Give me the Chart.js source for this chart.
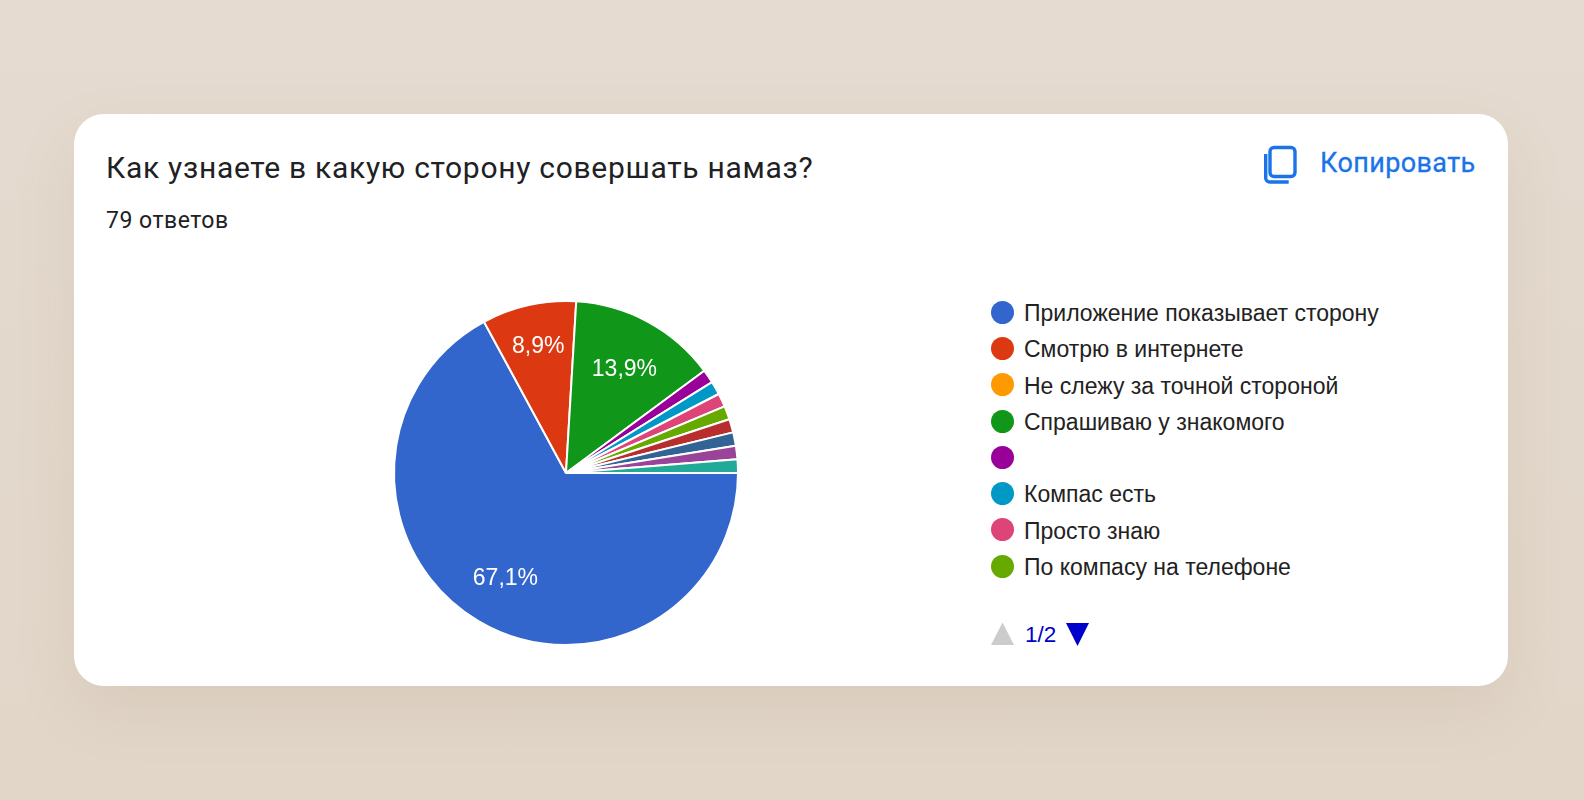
<!DOCTYPE html>
<html lang="ru">
<head>
<meta charset="utf-8">
<title>Как узнаете в какую сторону совершать намаз?</title>
<script src="https://cdn.jsdelivr.net/npm/chart.js@4"></script>
<style>
  html, body { margin: 0; padding: 0; }
  body {
    width: 1584px; height: 800px; overflow: hidden; position: relative;
    background: linear-gradient(180deg, #e5dbd0 0%, #e3d8cc 50%, #e2d6c9 100%);
  }
  .card {
    position: absolute; left: 74px; top: 114px; width: 1434px; height: 572px;
    background: #fff; border-radius: 30px;
    box-shadow: 0 24px 60px rgba(150, 120, 90, 0.12);
  }
  .title, .count, .copy, .legend { position: absolute; white-space: nowrap; }
  .title { left: 106px; top: 150px; font: 400 30px/36px Roboto, sans-serif; color: #202124; letter-spacing: 0.7px; }
  .count { left: 106px; top: 207px; font: 400 23px/28px Roboto, sans-serif; color: #202124; letter-spacing: 0.5px; }
  .copy { left: 1320px; top: 147px; font: 400 27px/32px Roboto, sans-serif; color: #1a73e8; letter-spacing: 0.4px; -webkit-text-stroke: 0.3px #1a73e8; }
  .icon { position: absolute; left: 1264px; top: 144px; }
  #pie { position: absolute; left: 386px; top: 293px; }
  .legend { left: 991px; top: 294px; font: 400 23px/36.3px "Liberation Sans", Arial, sans-serif; color: #222; }
  .row { height: 36.3px; display: flex; align-items: center; }
  .row span.txt { position: relative; top: 1px; }
  .dot { width: 23px; height: 23px; border-radius: 50%; margin-right: 10px; flex: none; }
  .pager { position: absolute; left: 991px; top: 621px; width: 110px; height: 26px; }
  .pager text { font: 400 22.5px "Liberation Sans", Arial, sans-serif; fill: #0000cc; }
</style>
</head>
<body>
<div class="card"></div>
<div class="title">Как узнаете в какую сторону совершать намаз?</div>
<div class="count">79 ответов</div>
<svg class="icon" width="34" height="40" viewBox="0 0 34 40">
  <path d="M10 3.5h17a4 4 0 0 1 4 4v21a4 4 0 0 1-4 4h-17a4 4 0 0 1-4-4v-21a4 4 0 0 1 4-4z" fill="none" stroke="#1a73e8" stroke-width="3.4"/>
  <path d="M1.7 10v24a4 4 0 0 0 4 4h19" fill="none" stroke="#1a73e8" stroke-width="3.4"/>
</svg>
<div class="copy">Копировать</div>
<canvas id="pie" width="360" height="360"></canvas>
<div class="legend" id="legend"></div>
<svg class="pager" viewBox="0 0 110 26">
  <polygon points="0,24 23,24 11.5,1.5" fill="#cccccc"/>
  <text x="34" y="21">1/2</text>
  <polygon points="75,2 98,2 86.5,25" fill="#0000cc"/>
</svg>
<script>
// answers, the last four only show up on page 2 of the legend
const labels = [
  "Приложение показывает сторону",
  "Смотрю в интернете",
  "Не слежу за точной стороной",
  "Спрашиваю у знакомого",
  "",
  "Компас есть",
  "Просто знаю",
  "По компасу на телефоне",
  "", "", "", ""
]
const values = [53, 7, 0, 11, 1, 1, 1, 1, 1, 1, 1, 1]
const colors = [
  "#3366cc", "#dc3912", "#ff9900", "#109618", "#990099", "#0099c6",
  "#dd4477", "#66aa00", "#b82e2e", "#316395", "#994499", "#22aa99"
]
const legendPageSize = 8

const total = values.reduce((a, b) => a + b, 0)

// percent text on the big slices
const sliceLabels = {
  id: "sliceLabels",
  afterDatasetsDraw(chart) {
    const ctx = chart.ctx
    const arcs = chart.getDatasetMeta(0).data
    ctx.save()
    ctx.fillStyle = "#fff"
    ctx.font = '23px "Liberation Sans", Arial, sans-serif'
    ctx.textAlign = "center"
    ctx.textBaseline = "middle"
    arcs.forEach((arc, i) => {
      const share = values[i] / total
      if (share < 0.05) return
      const mid = (arc.startAngle + arc.endAngle) / 2
      // small slices get pushed further out, same as google does
      const r = arc.outerRadius * (share < 0.1 ? 0.77 : 0.7)
      const text = (share * 100).toFixed(1).replace(".", ",") + "%"
      ctx.fillText(text, arc.x + Math.cos(mid) * r + 1, arc.y + Math.sin(mid) * r + 2.5)
    })
    ctx.restore()
  }
}

new Chart(document.getElementById("pie"), {
  type: "pie",
  data: {
    labels: labels,
    datasets: [{
      data: values,
      backgroundColor: colors,
      borderColor: "#fff",
      borderWidth: 2
    }]
  },
  options: {
    responsive: false,
    animation: false,
    rotation: 90,
    layout: { padding: 7 },
    plugins: { legend: { display: false }, tooltip: { enabled: false } }
  },
  plugins: [sliceLabels]
})

const legend = document.getElementById("legend")
labels.slice(0, legendPageSize).forEach((label, i) => {
  const row = document.createElement("div")
  row.className = "row"
  const dot = document.createElement("span")
  dot.className = "dot"
  dot.style.background = colors[i]
  const txt = document.createElement("span")
  txt.className = "txt"
  txt.textContent = label
  row.appendChild(dot)
  row.appendChild(txt)
  legend.appendChild(row)
})
</script>
</body>
</html>
